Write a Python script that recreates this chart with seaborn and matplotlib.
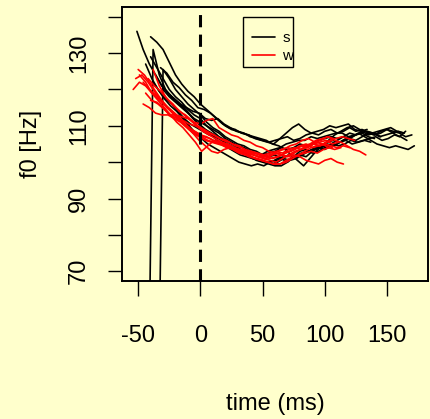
import numpy as np
import pandas as pd
import matplotlib
matplotlib.use("Agg")
import matplotlib.pyplot as plt
import seaborn as sns
from matplotlib.lines import Line2D
from matplotlib.patches import Rectangle

# ---- data (f0 trajectories, sampled every 5 ms from their start time) ----
STEP_MS = 5
s_starts = [-51, -40, -43, -35, -44, -32, -38, -30, -40, -36]
s_values = [
    [136, 131, 127, 124, 121, 119, 117, 115.5, 114, 112, 110.5, 109, 108, 107, 106, 105.5, 104.5, 104, 103, 102.5, 102, 103, 103.5, 104, 105, 105.5, 106, 106, 107, 106.5, 107, 107.5, 108, 108, 107, 107.5, 108, 108.5, 108, 107, 107.5, 108, 108.5, 108],
    [134.5, 133, 131, 127.5, 124, 121.5, 119.5, 118, 116, 114.5, 113, 111.5, 110, 109, 108.5, 108, 107, 106.5, 106, 105.5, 106, 106.5, 107, 106, 106.5, 107.5, 108, 107.5, 108.5, 109, 108, 108.5, 109.5, 108.5, 109, 108, 107.5, 108, 109, 108.5, 108, 107, 107.5],
    [0, 131, 124, 120, 118, 116.5, 115, 113, 111, 109.5, 108, 106.5, 105, 104, 103, 102, 101.5, 101, 100.5, 100, 100, 101, 101.5, 102, 101, 102, 103, 103.5, 104, 105, 104.5, 105.5, 106, 105, 105.5, 106, 105.5],
    [0, 125.5, 123, 120, 118, 116, 114.5, 113, 111, 109.5, 108.5, 107, 106, 105, 104.5, 103.5, 103, 102, 102.5, 103, 104, 103.5, 104, 105, 104.5, 105, 106, 106.5, 107, 106.5, 107, 108, 107.5, 108, 107, 106.5],
    [127, 123, 120, 117.5, 115.5, 114, 112, 110, 108, 106.5, 105, 104, 103, 102, 101, 100, 99.5, 99, 99.5, 99, 100, 100.5, 101, 102, 101.5, 102.5, 103, 103.5, 104, 104.5, 105, 104.5, 105, 106, 105.5, 106, 106.5, 107, 106, 106.5, 107.5, 107, 106],
    [126, 124.5, 122, 120.5, 118.5, 117, 115, 114.5, 113.5, 112, 110.5, 109.5, 109, 108, 107.5, 107, 106.5, 106, 105, 104.5, 103.5, 102, 100.5, 99, 101, 103, 104.5, 106, 107.5, 108.5, 109.5, 110, 109, 108.5, 108, 108.5, 109, 109.5, 108.5, 108],
    [122, 119.5, 117.5, 116, 114, 112, 110.5, 109.5, 108.5, 107.5, 107, 106, 105, 104, 103, 102, 101, 100.5, 100, 99.5, 100, 101, 100.5, 101, 102.5, 103, 104, 104.5, 105.5, 106, 105.5, 106.5, 107, 108, 107, 106, 105, 104.5, 104, 104.5, 104, 103.5, 104.5],
    [120, 118, 116.5, 115, 113.5, 112, 111, 110, 109, 108, 106.5, 105.5, 104.5, 104, 103, 102.5, 102, 101.5, 102, 101, 100, 101.5, 103, 103.5, 102.5, 103, 104, 105, 106, 107, 106.5, 107.5, 108.5, 107.5, 108, 107],
    [129, 126, 123, 120, 118, 116.5, 114.5, 113, 112, 110, 108.5, 107, 106, 105, 104, 103, 101.5, 100.5, 100, 99.5, 99, 99, 100, 101.5, 102, 101.5, 103, 104, 103.5, 104.5, 105, 106, 106.5, 106, 107, 108, 107.5, 108.5, 109, 108, 107, 108.5],
    [124, 121, 119, 117.5, 116, 115, 114, 113.5, 112, 111.5, 112, 110.5, 109.5, 108.5, 108, 107.5, 106.5, 106, 105.5, 105, 106.5, 108, 109.5, 110.5, 109, 108, 108.5, 109, 110, 109.5, 110, 110.5, 109, 108.5, 109],
]
w_starts = [-54, -50, -49, -46, -44, -40, -42, -46, -38, -52]
w_values = [
    [120, 122, 121, 119, 117.5, 116, 114.5, 113, 111.5, 110.5, 110, 109, 108, 107.5, 106.5, 106, 105, 104.5, 103.5, 103, 102.5, 102, 102.5, 103, 102.5, 103.5, 104, 103.5, 104.5, 105, 104.5, 105, 104],
    [125.5, 124, 121.5, 119, 116.5, 114.5, 112.5, 111, 109.5, 108.5, 107.5, 107, 106, 105.5, 104.5, 104, 103.5, 103, 102, 102.5, 101.5, 102, 102.5, 103.5, 104, 103.5, 104.5, 105, 104, 104.5, 105, 104.5, 104, 104.5, 104],
    [124, 122, 119, 117, 115, 113, 112, 111, 109, 108, 107, 106, 105.5, 105, 104, 103.5, 102.5, 102, 101.5, 101, 100.5, 101, 101.5, 102, 103, 103.5, 104.5, 104, 105, 104.5, 105.5, 106],
    [122, 120, 118.5, 117, 115, 113.5, 111.5, 110, 108, 106, 104.5, 103, 102.5, 103.5, 104, 103.5, 102.5, 102, 101, 100.5, 100, 99.5, 99.5, 100, 101, 102, 102.5, 103, 102.5, 103.5, 104],
    [119, 117, 116, 114.5, 113, 111, 109.5, 107.5, 105.5, 103, 104.5, 106, 105.5, 105, 104, 103.5, 103, 102.5, 101.5, 101, 100.5, 100, 101, 102, 103, 103.5, 104, 105, 105.5, 106, 105, 105.5],
    [117, 116.5, 115, 113, 113, 112.5, 112, 111, 110.5, 111.5, 112, 109.5, 108.5, 107.5, 107, 106, 105.5, 104.5, 104, 103, 102.5, 102, 101.5, 102, 101.5, 100.5, 100, 99.5, 100.5, 101, 100, 99.5],
    [123, 121, 119.5, 117.5, 116, 114, 113, 111.5, 110, 109, 108, 107, 106, 105.5, 104.5, 104, 103, 102.5, 102, 101.5, 101, 101.5, 102.5, 103, 104, 104.5, 105, 106, 106.5, 107, 106, 105.5, 104.5, 103.5, 103, 102],
    [116, 115, 113.5, 113, 113, 112, 111, 109.5, 108, 107, 106, 105.5, 105, 104.5, 104, 103, 102.5, 101.5, 101, 100.5, 100, 99.5, 99.5, 100.5, 101.5, 102, 103, 104, 104.5, 105, 106, 106.5, 107, 106.5, 106],
    [125.5, 121, 118, 116, 114.5, 113, 111.5, 110, 108.5, 107.5, 106.5, 105.5, 105, 104, 103.5, 103, 102, 101.5, 101, 102, 103, 103.5, 104.5, 105, 106, 106.5, 105.5, 106, 107, 106.5],
    [123, 124, 122, 119.5, 117, 115, 113.5, 112, 110.5, 109, 108, 107, 106.5, 105.5, 105, 104.5, 103.5, 103, 102.5, 102, 101.5, 101, 102, 102.5, 101.5, 102, 103, 104, 104.5, 105.5, 105, 104, 103.5, 104],
]
x_ticks = [-50, 0, 50, 100, 150]
y_ticks = [70, 80, 90, 100, 110, 120, 130, 140]
y_tick_labels = ["70", "", "90", "", "110", "", "130", ""]
groups = ["s", "w"]
group_colors = {"s": "#000000", "w": "#FF0000"}

rows = []
uid = 0
for grp, starts, vals in (("s", s_starts, s_values), ("w", w_starts, w_values)):
    for st, v in zip(starts, vals):
        for i, f in enumerate(v):
            rows.append((uid, grp, st + STEP_MS * i, f))
        uid += 1
df = pd.DataFrame(rows, columns=["id", "group", "time", "f0"])

# ---- style ----
sns.set_style("ticks")
BG = "#FFFFCC"
plt.rcParams["font.family"] = ["Liberation Sans", "DejaVu Sans"]
for k in ("text.color", "axes.labelcolor", "xtick.color", "ytick.color", "axes.edgecolor"):
    plt.rcParams[k] = "black"

fig = plt.figure(figsize=(4.30, 4.19), dpi=100, facecolor=BG)
ax = fig.add_axes([122 / 430, 138 / 419, 306 / 430, 274 / 419])
ax.set_facecolor(BG)

sns.lineplot(data=df, x="time", y="f0", hue="group", units="id", estimator=None,
             palette=group_colors, linewidth=1.2, sort=False, legend=False, ax=ax)

ax.axvline(0, color="black", linewidth=2.2, linestyle=(0, (4, 2.4)))

ax.set_xlim(-63, 183)
ax.set_ylim(67.3, 142.7)
ax.set_xticks(x_ticks)
ax.set_xticklabels([str(t) for t in x_ticks])
ax.set_yticks(y_ticks)
ax.set_yticklabels(y_tick_labels, rotation=90, va="center")

for sp in ax.spines.values():
    sp.set_linewidth(1.4)
    sp.set_color("black")
ax.tick_params(axis="x", direction="out", length=11, width=1.0, pad=21, labelsize=17, colors="black")
ax.tick_params(axis="y", direction="out", length=10, width=1.0, pad=13, labelsize=17, colors="black")

ax.set_xlabel("time (ms)", fontsize=17, labelpad=33, color="black")
ax.set_ylabel("f0 [Hz]", fontsize=17, labelpad=19, color="black")

# legend: entries without frame, plus an R-style box around them
handles = [Line2D([], [], color=group_colors[g], linewidth=1.2) for g in groups]
leg = ax.legend(handles, groups, loc="center left", bbox_to_anchor=(0.4239, 0.854),
                borderaxespad=0, frameon=False, fontsize=11,
                handlelength=1.5, handletextpad=0.5, labelspacing=0.25,
                borderpad=0)
ax.add_patch(Rectangle((0.3944, 0.781), 0.1654, 0.1825, transform=ax.transAxes,
                       fill=False, edgecolor="black", linewidth=1.0, zorder=5))

fig.savefig("out.png", dpi=100, facecolor=BG)
